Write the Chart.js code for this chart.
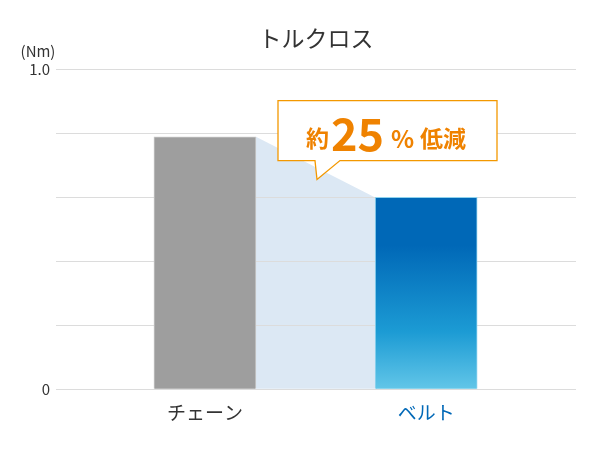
<!DOCTYPE html>
<html>
<head>
<meta charset="utf-8">
<script src="https://cdn.jsdelivr.net/npm/chart.js@4/dist/chart.umd.min.js"></script>
<style>
  html, body { margin: 0; padding: 0; background: #ffffff; }
  #wrap { width: 600px; height: 450px; position: relative; }
</style>
</head>
<body>
<div id="wrap"><canvas id="c" width="600" height="450"></canvas></div>
<script>
// ---- data ----
const categories = ['チェーン', 'ベルト'];
const torque = [0.79, 0.6];
const yTickLabels = { 0: '0', 1: '1.0' };
const titleText = 'トルクロス';
const unitText = '(Nm)';
const calloutParts = ['約', '25', '%', '低減'];

const FONT = '"Noto Sans CJK JP", "Noto Sans", sans-serif';
const ORANGE = '#ef8200';

// light-blue area joining the two bar tops
const bridgePlugin = {
  id: 'bridge',
  beforeDraw(chart) {
    const meta = chart.getDatasetMeta(0);
    const a = meta.data[0], b = meta.data[1];
    if (!a || !b) return;
    const ctx = chart.ctx;
    ctx.save();
    ctx.fillStyle = '#dce8f4';
    ctx.beginPath();
    ctx.moveTo(a.x + a.width / 2, a.y);
    ctx.lineTo(b.x - b.width / 2, b.y);
    ctx.lineTo(b.x - b.width / 2, b.base);
    ctx.lineTo(a.x + a.width / 2, a.base);
    ctx.closePath();
    ctx.fill();
    ctx.restore();
  }
};

// unit label and the callout
const notesPlugin = {
  id: 'notes',
  afterDraw(chart) {
    const ctx = chart.ctx;
    const ca = chart.chartArea;
    ctx.save();
    // unit
    ctx.fillStyle = '#333333';
    ctx.font = '15px ' + FONT;
    ctx.textAlign = 'center';
    ctx.textBaseline = 'middle';
    ctx.fillText(unitText, ca.left - 18, ca.top - 18);

    // callout box
    const L = ca.left + 222, T = ca.top + 31, W = 219, H = 60;
    ctx.beginPath();
    ctx.moveTo(L, T);
    ctx.lineTo(L + W, T);
    ctx.lineTo(L + W, T + H);
    ctx.lineTo(L + 62, T + H);
    ctx.lineTo(L + 39, T + H + 19);
    ctx.lineTo(L + 37, T + H);
    ctx.lineTo(L, T + H);
    ctx.closePath();
    ctx.fillStyle = '#ffffff';
    ctx.fill();
    ctx.strokeStyle = '#f39800';
    ctx.lineWidth = 1.3;
    ctx.stroke();

    ctx.fillStyle = ORANGE;
    ctx.textAlign = 'left';
    ctx.textBaseline = 'alphabetic';
    ctx.font = 'bold 23px ' + FONT;
    ctx.fillText(calloutParts[0], L + 28, T + 46);
    ctx.font = 'bold 45px ' + FONT;
    ctx.fillText(calloutParts[1], L + 53, T + 50);
    ctx.font = 'bold 24px ' + FONT;
    ctx.fillText(calloutParts[2], L + 113, T + 47);
    ctx.font = 'bold 23px ' + FONT;
    ctx.fillText(calloutParts[3], L + 142, T + 46);
    ctx.restore();
  }
};

function beltGradient(context) {
  const chart = context.chart;
  const ys = chart.scales.y;
  if (!ys || !chart.chartArea) return '#0068b7';
  const top = ys.getPixelForValue(torque[1]);
  const bottom = ys.getPixelForValue(0);
  const g = chart.ctx.createLinearGradient(0, top, 0, bottom);
  g.addColorStop(0, '#0068b7');
  g.addColorStop(0.25, '#0068b7');
  g.addColorStop(0.7, '#1c9bd4');
  g.addColorStop(1, '#62c6e8');
  return g;
}

new Chart(document.getElementById('c'), {
  type: 'bar',
  data: {
    datasets: [{
      data: categories.map((c, i) => ({ x: i, y: torque[i] })),
      backgroundColor: (ctx) => ctx.dataIndex === 1 ? beltGradient(ctx) : '#9e9e9e',
      borderColor: (ctx) => ctx.dataIndex === 1 ? '#8fd3ee' : '#c9c9c9',
      borderWidth: 1,
      barThickness: 102
    }]
  },
  options: {
    responsive: false,
    animation: false,
    events: [],
    layout: { padding: { left: 0, right: 24, top: 0, bottom: 14 } },
    plugins: {
      legend: { display: false },
      tooltip: { enabled: false },
      title: {
        display: true,
        text: titleText,
        fullSize: false,
        color: '#333333',
        font: { size: 23, family: FONT, weight: 'normal' },
        padding: { top: 24, bottom: 18 }
      }
    },
    scales: {
      x: {
        type: 'linear',
        offset: false,
        min: -0.673,
        max: 1.677,
        grid: { display: false, drawTicks: false },
        border: { display: false },
        ticks: {
          stepSize: 1,
          autoSkip: false,
          maxRotation: 0,
          padding: 12,
          font: { size: 19, family: FONT },
          color: (ctx) => (ctx.tick && ctx.tick.value === 1) ? '#0068b7' : '#333333',
          callback: (v) => (Number.isInteger(v) && categories[v] !== undefined) ? categories[v] : ''
        }
      },
      y: {
        min: 0,
        max: 1,
        afterFit: (s) => { s.width = 56; },
        grid: { color: '#dcdcdc', drawTicks: false, lineWidth: 1 },
        border: { display: false },
        ticks: {
          stepSize: 0.2,
          padding: 6,
          font: { size: 15, family: FONT },
          color: '#333333',
          callback: (v) => {
            const k = Math.round(v * 100) / 100;
            return yTickLabels[k] !== undefined ? yTickLabels[k] : '';
          }
        }
      }
    }
  },
  plugins: [bridgePlugin, notesPlugin]
});
</script>
</body>
</html>
